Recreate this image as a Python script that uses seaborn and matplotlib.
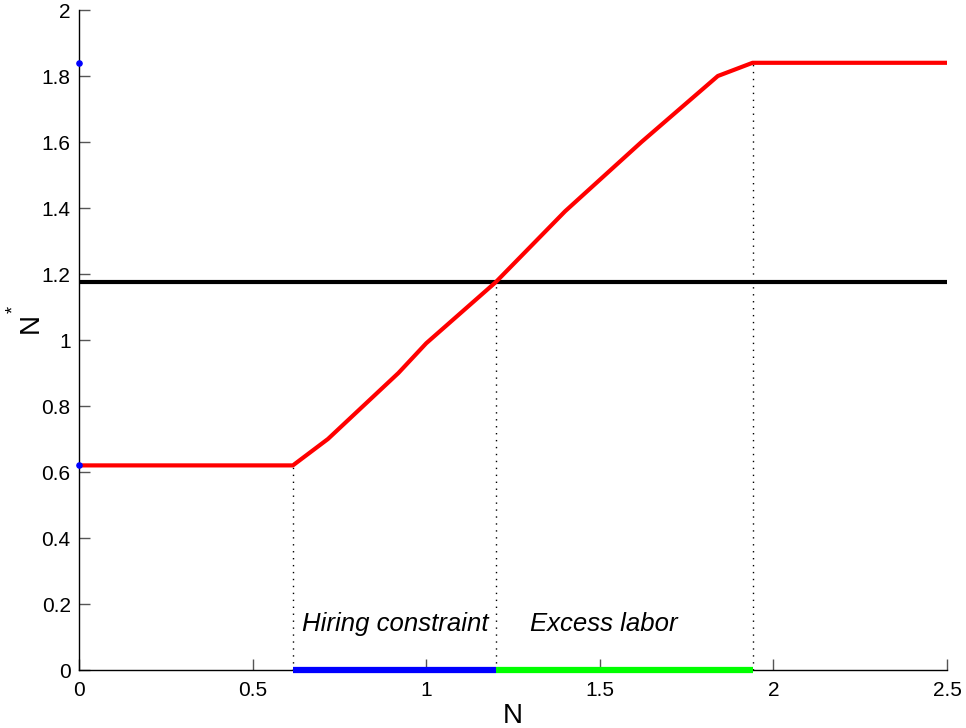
import matplotlib
matplotlib.use("Agg")
import matplotlib.pyplot as plt
import seaborn as sns
import pandas as pd

sns.set_theme(style="white")
plt.rcParams['font.family'] = ['Liberation Sans', 'DejaVu Sans']
plt.rcParams['text.color'] = 'black'
plt.rcParams['axes.labelcolor'] = 'black'

# Data
n_vals = [0.0, 0.616, 0.717, 0.92, 1.0, 1.2, 1.4, 1.62, 1.84, 1.94, 2.5]
nstar_vals = [0.62, 0.62, 0.70, 0.90, 0.99, 1.175, 1.39, 1.60, 1.80, 1.84, 1.84]
threshold = 1.175
kinks_x = [0.616, 1.2, 1.94]
kinks_y = [0.62, 1.175, 1.84]
hiring_range = [0.616, 1.2]
excess_range = [1.2, 1.94]
dot_y = [1.84, 0.62]
xticks = [0, 0.5, 1, 1.5, 2, 2.5]
xtick_labels = ["0", "0.5", "1", "1.5", "2", "2.5"]
yticks = [0, 0.2, 0.4, 0.6, 0.8, 1, 1.2, 1.4, 1.6, 1.8, 2]
ytick_labels = ["0", "0.2", "0.4", "0.6", "0.8", "1", "1.2", "1.4", "1.6", "1.8", "2"]

df = pd.DataFrame({"N": n_vals, "Nstar": nstar_vals})

W, H = 966, 728
fig = plt.figure(figsize=(W / 100, H / 100), dpi=100)
ax = fig.add_axes([79/W, 58/H, 868/W, 660/H])

ax.axhline(threshold, color="black", lw=3, xmin=0.0, xmax=1.0, zorder=2)
for kx, ky in zip(kinks_x, kinks_y):
    ax.plot([kx, kx], [0, ky], color="black", lw=1, ls=(0, (1, 4)), zorder=1)
ax.plot(hiring_range, [0, 0], color="#0000ff", lw=4.5, solid_capstyle="butt", zorder=4, clip_on=False)
ax.plot(excess_range, [0, 0], color="#00ff00", lw=4.5, solid_capstyle="butt", zorder=4, clip_on=False)
sns.lineplot(data=df, x="N", y="Nstar", color="#ff0000", lw=3, ax=ax, zorder=3, sort=False)
ax.scatter([0, 0], dot_y, color="#0000ff", s=14, zorder=5, clip_on=False)

ax.text(0.643, 0.14, "Hiring constraint", fontsize=18.5, style="italic", ha="left", va="center", color="black")
ax.text(1.30, 0.14, "Excess labor", fontsize=18.5, style="italic", ha="left", va="center", color="black")

ax.set_xlim(0, 2.5)
ax.set_ylim(0, 2)
ax.set_xticks(xticks)
ax.set_xticklabels(xtick_labels)
ax.set_yticks(yticks)
ax.set_yticklabels(ytick_labels)
ax.tick_params(axis="both", direction="in", length=8, width=1, color="#555555",
               labelsize=15, labelcolor="black", bottom=True, left=True)
ax.tick_params(axis="x", pad=8)
ax.tick_params(axis="y", pad=6)
for s in ["top", "right"]:
    ax.spines[s].set_visible(False)
for s in ["left", "bottom"]:
    ax.spines[s].set_color("black")
    ax.spines[s].set_linewidth(1)

ax.set_xlabel("N", fontsize=20, labelpad=2, color="black")
ax.set_ylabel("")
fig.text(31/W, 1 - 323/H, "N", rotation=90, fontsize=20, ha="center", va="center", color="black")
fig.text(14/W, 1 - 309/H, "*", rotation=90, fontsize=13, ha="center", va="center", color="black")

fig.savefig("out.png", dpi=100)
